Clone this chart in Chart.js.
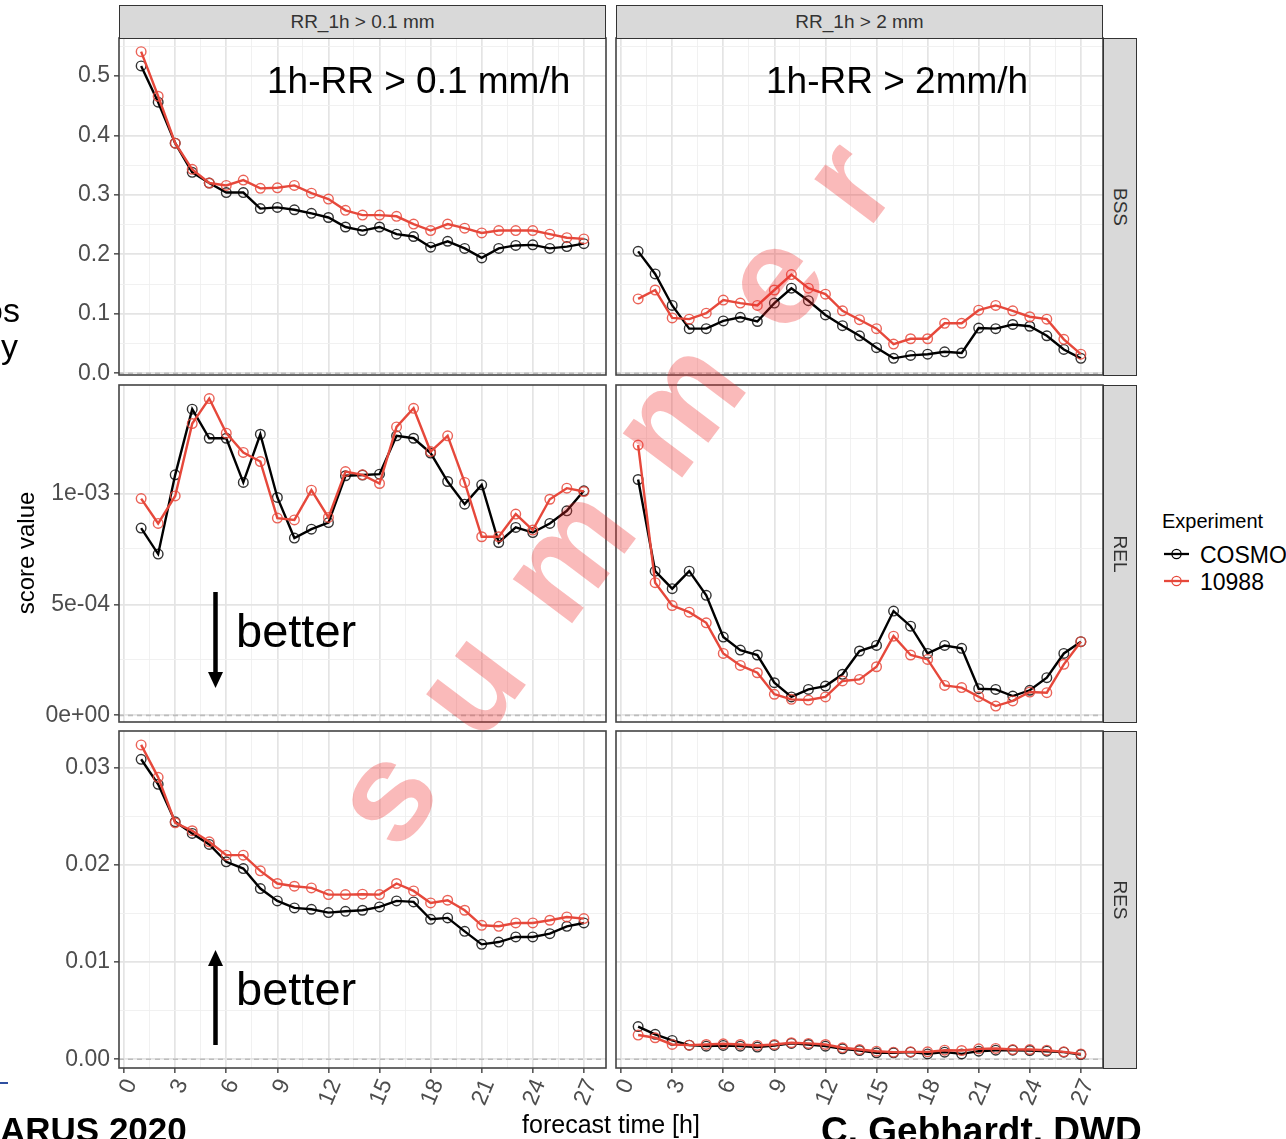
<!DOCTYPE html>
<html><head><meta charset="utf-8">
<script src="https://cdn.jsdelivr.net/npm/chart.js@4.4.1/dist/chart.umd.min.js"></script>
<style>
html,body{margin:0;padding:0;background:#fff;}
body{width:1286px;height:1139px;overflow:hidden;position:relative;font-family:"Liberation Sans",Arial,Helvetica,sans-serif;}
canvas{position:absolute;}
.t{position:absolute;white-space:nowrap;line-height:1;}
.strip{position:absolute;background:#D9D9D9;border:1px solid #333;box-sizing:border-box;color:#333;font-size:19px;display:flex;align-items:center;justify-content:center;}
.strip span{display:inline-block;white-space:nowrap;}
</style></head><body>
<script>
// ---------- data ----------
const hours = [1,2,3,4,5,6,7,8,9,10,11,12,13,14,15,16,17,18,19,20,21,22,23,24,25,26,27];
const seriesNames = ["COSMO", "10988"];
const stripTop = ["RR_1h > 0.1 mm", "RR_1h > 2 mm"];
const stripRight = ["BSS", "REL", "RES"];

const xTickValues = [0,3,6,9,12,15,18,21,24,27];
const xTickLabels = ["0","3","6","9","12","15","18","21","24","27"];
const bssTickValues = [0,0.1,0.2,0.3,0.4,0.5];
const bssTickLabels = ["0.0","0.1","0.2","0.3","0.4","0.5"];
const relTickValues = [0,0.0005,0.001];
const relTickLabels = ["0e+00","5e-04","1e-03"];
const resTickValues = [0,0.01,0.02,0.03];
const resTickLabels = ["0.00","0.01","0.02","0.03"];

const bssLowCosmo = [0.517,0.456,0.387,0.338,0.320,0.304,0.304,0.277,0.279,0.275,0.269,0.262,0.246,0.240,0.246,0.234,0.230,0.212,0.222,0.210,0.194,0.210,0.215,0.216,0.210,0.213,0.218];
const bssLow10988 = [0.541,0.466,0.387,0.343,0.320,0.316,0.325,0.311,0.312,0.316,0.303,0.293,0.274,0.266,0.266,0.264,0.251,0.240,0.251,0.244,0.236,0.240,0.240,0.240,0.234,0.228,0.226];
const bssHighCosmo = [0.205,0.167,0.114,0.075,0.075,0.088,0.094,0.087,0.118,0.143,0.122,0.098,0.080,0.063,0.043,0.025,0.030,0.032,0.036,0.034,0.076,0.075,0.082,0.079,0.063,0.040,0.025];
const bssHigh10988 = [0.125,0.140,0.093,0.091,0.101,0.123,0.118,0.114,0.140,0.166,0.143,0.133,0.105,0.090,0.075,0.049,0.058,0.058,0.084,0.084,0.106,0.114,0.105,0.095,0.091,0.057,0.032];

const relLowCosmo = [8.44e-4,7.27e-4,1.084e-3,1.380e-3,1.249e-3,1.249e-3,1.050e-3,1.267e-3,9.82e-4,7.99e-4,8.39e-4,8.69e-4,1.080e-3,1.083e-3,1.087e-3,1.260e-3,1.249e-3,1.182e-3,1.054e-3,9.52e-4,1.039e-3,7.79e-4,8.47e-4,8.24e-4,8.65e-4,9.22e-4,1.012e-3];
const relLow10988 = [9.77e-4,8.65e-4,9.89e-4,1.315e-3,1.428e-3,1.272e-3,1.185e-3,1.144e-3,8.89e-4,8.81e-4,1.015e-3,8.92e-4,1.099e-3,1.084e-3,1.045e-3,1.300e-3,1.384e-3,1.189e-3,1.260e-3,1.050e-3,8.05e-4,8.05e-4,9.07e-4,8.35e-4,9.74e-4,1.024e-3,1.009e-3];
const relHighCosmo = [1.063e-3,6.50e-4,5.71e-4,6.50e-4,5.41e-4,3.53e-4,2.94e-4,2.72e-4,1.47e-4,8.3e-5,1.17e-4,1.32e-4,1.85e-4,2.90e-4,3.15e-4,4.70e-4,4.02e-4,2.79e-4,3.15e-4,3.02e-4,1.20e-4,1.17e-4,8.7e-5,1.13e-4,1.70e-4,2.79e-4,3.32e-4];
const relHigh10988 = [1.218e-3,5.98e-4,4.95e-4,4.65e-4,4.17e-4,2.79e-4,2.25e-4,1.92e-4,9.5e-5,7.2e-5,6.9e-5,8.3e-5,1.55e-4,1.62e-4,2.19e-4,3.57e-4,2.72e-4,2.52e-4,1.35e-4,1.25e-4,8.4e-5,4.2e-5,6.5e-5,1.05e-4,1.02e-4,2.30e-4,3.32e-4];

const resLowCosmo = [0.03086,0.02828,0.02443,0.02323,0.02210,0.02031,0.01962,0.01756,0.01629,0.01557,0.01543,0.01509,0.01522,0.01533,0.01567,0.01629,0.01619,0.01440,0.01454,0.01316,0.01182,0.01206,0.01258,0.01258,0.01292,0.01368,0.01402];
const resLow10988 = [0.03234,0.02900,0.02433,0.02351,0.02237,0.02100,0.02100,0.01938,0.01808,0.01780,0.01763,0.01694,0.01694,0.01698,0.01694,0.01808,0.01732,0.01608,0.01636,0.01533,0.01378,0.01368,0.01402,0.01402,0.01430,0.01464,0.01447];
const resHighCosmo = [0.00336,0.00256,0.00194,0.00145,0.00135,0.00142,0.00135,0.00125,0.00142,0.00163,0.00152,0.00135,0.00107,0.00090,0.00066,0.00066,0.00073,0.00055,0.00073,0.00055,0.00083,0.00093,0.00093,0.00090,0.00083,0.00073,0.00048];
const resHigh10988 = [0.00249,0.00221,0.00152,0.00145,0.00152,0.00159,0.00152,0.00142,0.00152,0.00170,0.00163,0.00152,0.00118,0.00100,0.00083,0.00073,0.00076,0.00076,0.00093,0.00090,0.00107,0.00111,0.00100,0.00100,0.00093,0.00076,0.00055];

// ---------- layout / style ----------
const FONT = '"Liberation Sans", Arial, Helvetica, sans-serif';
Chart.defaults.font.family = FONT;
const cosmoColor = '#000000';
const expColor = '#E6483B';
const cols = [{left:119, w:487}, {left:616, w:487}];
const rows = [{top:38, h:337}, {top:385, h:337}, {top:731, h:337}];
const xRange = {min:-0.3, max:28.3};
const rowDefs = [
  {min:-0.003, max:0.564, tv:bssTickValues, tl:bssTickLabels, data:[[bssLowCosmo,bssLow10988],[bssHighCosmo,bssHigh10988]]},
  {min:-0.00003, max:0.001489, tv:relTickValues, tl:relTickLabels, data:[[relLowCosmo,relLow10988],[relHighCosmo,relHigh10988]]},
  {min:-0.0009, max:0.03377, tv:resTickValues, tl:resTickLabels, data:[[resLowCosmo,resLow10988],[resHighCosmo,resHigh10988]]}
];

function makeTicks(majors, min, max){
  const step = majors[1]-majors[0];
  const out = [];
  majors.forEach(v => { if (v >= min && v <= max) out.push({value:v, major:true}); });
  const cands = [majors[0]-step/2].concat(majors.map(v => v+step/2));
  cands.forEach(v => { if (v > min && v < max) out.push({value:v, major:false}); });
  out.sort((a,b)=>a.value-b.value);
  return out;
}
function labelFor(values, labels, v){
  for (let i=0;i<values.length;i++){ if (Math.abs(values[i]-v) < 1e-12) return labels[i]; }
  return '';
}
const gridColor = ctx => (ctx.tick && ctx.tick.major) ? '#E4E4E4' : '#EFEFEF';
const gridWidth = ctx => (ctx.tick && ctx.tick.major) ? 1.7 : 0.9;
const tickColor = ctx => (ctx.tick && ctx.tick.major) ? '#333333' : 'rgba(0,0,0,0)';

const panelDeco = {
  id:'panelDeco',
  beforeDatasetsDraw(chart){
    const {ctx, chartArea:a} = chart; const y = chart.scales.y;
    const py = y.getPixelForValue(0);
    ctx.save();
    ctx.beginPath(); ctx.rect(a.left, a.top, a.width, a.height); ctx.clip();
    ctx.setLineDash([5,4]); ctx.strokeStyle = '#BDBDBD'; ctx.lineWidth = 1.6;
    ctx.beginPath(); ctx.moveTo(a.left, py); ctx.lineTo(a.right, py); ctx.stroke();
    ctx.restore();
  },
  afterDraw(chart){
    const {ctx, chartArea:a} = chart;
    ctx.save(); ctx.strokeStyle = '#444'; ctx.lineWidth = 1.6;
    ctx.strokeRect(a.left, a.top, a.width, a.height); ctx.restore();
  }
};

function buildPanel(r, c){
  const col = cols[c], row = rows[r], def = rowDefs[r];
  const yW = c === 0 ? col.left : 20;
  const xH = r === 2 ? 62 : 0;
  const padT = 20, padR = 20, padB = 20;
  const cv = document.createElement('canvas');
  const W = yW + col.w + padR, H = padT + row.h + xH + padB;
  cv.width = W; cv.height = H;
  cv.style.width = W+'px'; cv.style.height = H+'px';
  cv.style.left = (col.left - yW)+'px'; cv.style.top = (row.top - padT)+'px';
  document.body.appendChild(cv);
  const pair = def.data[c];
  const mk = (vals) => hours.map((h,i)=>({x:h, y:vals[i]}));
  new Chart(cv.getContext('2d'), {
    type:'line',
    data:{datasets:[
      {label:seriesNames[0], data:mk(pair[0]), order:1, borderColor:cosmoColor, borderWidth:2.4,
       pointRadius:4.8, pointBorderWidth:1.4, pointBackgroundColor:'rgba(0,0,0,0)', pointBorderColor:'rgba(0,0,0,0.8)', tension:0},
      {label:seriesNames[1], data:mk(pair[1]), order:0, borderColor:expColor, borderWidth:2.4,
       pointRadius:4.8, pointBorderWidth:1.4, pointBackgroundColor:'rgba(0,0,0,0)', pointBorderColor:'rgba(232,72,59,0.85)', tension:0}
    ]},
    options:{
      responsive:false, animation:false, devicePixelRatio:1, events:[],
      layout:{padding:{top:padT, right:padR, bottom:padB, left:0}},
      plugins:{legend:{display:false}, tooltip:{enabled:false}},
      scales:{
        x:{type:'linear', min:xRange.min, max:xRange.max,
           afterBuildTicks: s => { s.ticks = makeTicks(xTickValues, xRange.min, xRange.max); },
           afterFit: s => { s.height = xH; },
           border:{display:false},
           grid:{color:gridColor, lineWidth:gridWidth, drawTicks: r===2, tickLength:5, tickColor:tickColor, tickWidth:1.3},
           ticks:{display: r===2, autoSkip:false, minRotation:67, maxRotation:67, padding:2, labelOffset:7,
                  color:'#4D4D4D', font:{size:23, family:FONT},
                  callback: v => labelFor(xTickValues, xTickLabels, v)}},
        y:{type:'linear', min:def.min, max:def.max,
           afterBuildTicks: s => { s.ticks = makeTicks(def.tv, def.min, def.max); },
           afterFit: s => { s.width = yW; },
           border:{display:false},
           grid:{color:gridColor, lineWidth:gridWidth, drawTicks: c===0, tickLength:5, tickColor:tickColor, tickWidth:1.3},
           ticks:{display: c===0, autoSkip:false, padding:4, color:'#4D4D4D', font:{size:23, family:FONT},
                  callback: v => labelFor(def.tv, def.tl, v)}}
      }
    },
    plugins:[panelDeco]
  });
}
for (let r=0;r<3;r++) for (let c=0;c<2;c++) buildPanel(r,c);

// strips
function addDiv(cls, css){ const d=document.createElement('div'); d.className=cls; d.style.cssText=css; document.body.appendChild(d); return d; }
cols.forEach((col,i)=>{
  const s = addDiv('strip', `left:${col.left}px;top:5px;width:${col.w}px;height:34px;`);
  const sp = document.createElement('span'); sp.textContent = stripTop[i]; s.appendChild(sp);
});
rows.forEach((row,i)=>{
  const s = addDiv('strip', `left:1103px;top:${row.top}px;width:34px;height:${row.h+1}px;`);
  const sp = document.createElement('span'); sp.textContent = stripRight[i]; sp.style.transform='rotate(90deg)'; s.appendChild(sp);
});
</script>

<!-- axis titles -->
<div class="t" style="left:26px;top:553px;font-size:24px;color:#000;transform:translate(-50%,-50%) rotate(-90deg);">score value</div>
<div class="t" style="left:611px;top:1112px;font-size:25px;color:#000;transform:translateX(-50%);">forecast time [h]</div>

<!-- annotations -->
<div class="t" style="left:267px;top:62px;font-size:37px;color:#000;">1h-RR &gt; 0.1 mm/h</div>
<div class="t" style="left:766px;top:62px;font-size:37px;color:#000;">1h-RR &gt; 2mm/h</div>
<div class="t" style="left:236px;top:607px;font-size:47px;color:#000;">better</div>
<div class="t" style="left:236px;top:965px;font-size:47px;color:#000;">better</div>

<!-- slide remnants -->
<div class="t" style="left:-16px;top:293px;font-size:34px;color:#000;">os</div>
<div class="t" style="left:1px;top:329px;font-size:34px;color:#000;">y</div>
<div class="t" style="left:0px;top:1112px;font-size:35px;font-weight:bold;color:#000;">ARUS 2020</div>
<div class="t" style="left:821px;top:1112px;font-size:37px;font-weight:bold;color:#000;">C. Gebhardt, DWD</div>
<div style="position:absolute;left:0;top:1082px;width:8px;height:2px;background:#2F4FA0;"></div>

<!-- legend -->
<div class="t" style="left:1162px;top:511px;font-size:20px;color:#000;">Experiment</div>
<div class="t" style="left:1200px;top:544px;font-size:23px;color:#000;">COSMO</div>
<div class="t" style="left:1200px;top:571px;font-size:23px;color:#000;">10988</div>

<svg style="position:absolute;left:0;top:0;" width="1286" height="1139">
  <line x1="215.5" y1="592" x2="215.5" y2="673" stroke="#000" stroke-width="4.5"/>
  <polygon points="208,672 223,672 215.5,688" fill="#000"/>
  <line x1="215.5" y1="1045" x2="215.5" y2="965" stroke="#000" stroke-width="4.5"/>
  <polygon points="208,966 223,966 215.5,950" fill="#000"/>
  <line x1="1164" y1="554" x2="1189" y2="554" stroke="#000" stroke-width="2.3"/>
  <circle cx="1176.5" cy="554" r="4.6" fill="none" stroke="#000" stroke-width="1.3"/>
  <line x1="1164" y1="581" x2="1189" y2="581" stroke="#E6483B" stroke-width="2.3"/>
  <circle cx="1176.5" cy="581" r="4.6" fill="none" stroke="#E6483B" stroke-width="1.3"/>
</svg>

<!-- watermark -->
<div class="t" style="left:611px;top:492px;font-size:140px;font-weight:bold;letter-spacing:58px;padding-left:58px;color:rgba(240,40,40,0.32);transform:translate(-50%,-50%) rotate(-53deg);pointer-events:none;">summer</div>
</body></html>
